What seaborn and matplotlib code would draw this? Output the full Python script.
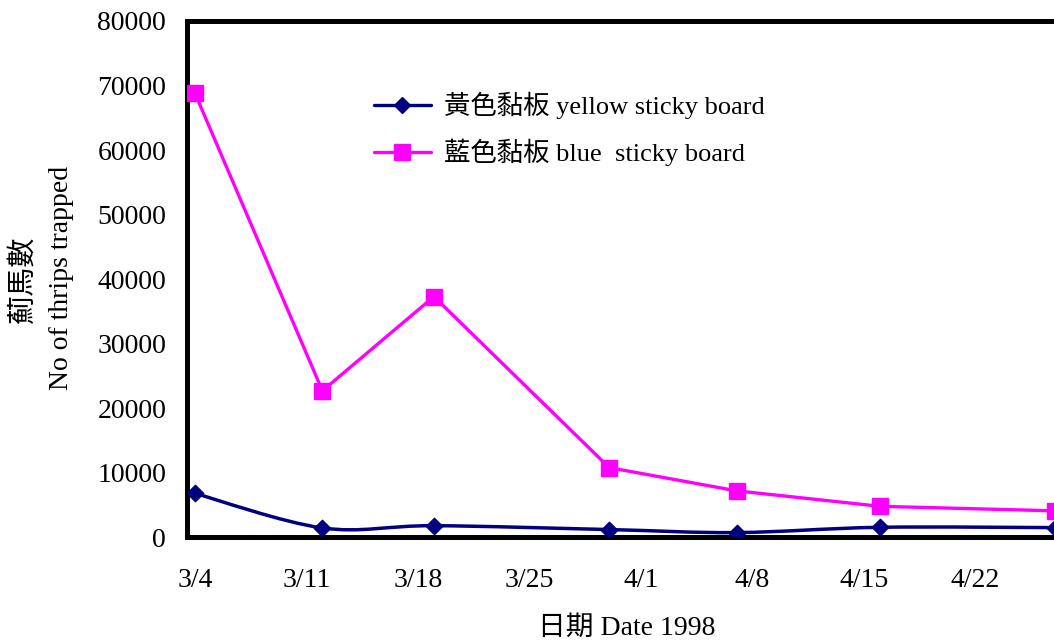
import numpy as np
import pandas as pd
import matplotlib
matplotlib.use("Agg")
import matplotlib.pyplot as plt
from matplotlib.path import Path
from matplotlib.patches import PathPatch
from matplotlib.lines import Line2D
import seaborn as sns

# Sampling dates (month/day, 1998) and thrips caught per board
sample_dates = ["3/4", "3/12", "3/19", "3/30", "4/7", "4/16", "4/27"]
yellow_counts = [6800, 1450, 1800, 1200, 730, 1550, 1500]
blue_counts = [68800, 22700, 37300, 10800, 7200, 4800, 4100]

tick_dates = ["3/4", "3/11", "3/18", "3/25", "4/1", "4/8", "4/15", "4/22"]
y_ticks = [0, 10000, 20000, 30000, 40000, 50000, 60000, 70000, 80000]

series_labels = ["黃色黏板 yellow sticky board", "藍色黏板 blue  sticky board"]
x_label = "日期 Date 1998"
y_label_zh = "薊馬數"
y_label_en = "No of thrips trapped"

NAVY = "#000080"
MAGENTA = "#FF00FF"

sns.set_style("white")
plt.rcParams["font.family"] = ["Liberation Serif", "Noto Sans CJK TC"]
plt.rcParams["text.color"] = "black"
plt.rcParams["axes.labelcolor"] = "black"
plt.rcParams["xtick.color"] = "black"
plt.rcParams["ytick.color"] = "black"

START = pd.Timestamp("1998-03-04")


def day_number(md):
    return (pd.to_datetime(f"1998/{md}", format="%Y/%m/%d") - START).days


# each sample sits in the middle of its day; ticks mark the start of a day
days = np.array([day_number(d) for d in sample_dates]) + 0.5
tick_pos = np.array([day_number(d) for d in tick_dates])

df = pd.DataFrame({"day": days, "yellow": yellow_counts, "blue": blue_counts})

fig = plt.figure(figsize=(10.54, 6.41), dpi=100)
ax = fig.add_axes([187 / 1054, 1 - 537.3 / 641, 880 / 1054, 516.3 / 641])


def smooth_path(xs, ys):
    """Cubic Bezier path through the points (Catmull-Rom style smoothing)."""
    pts = np.column_stack([xs, ys]).astype(float)
    n = len(pts)
    verts = [pts[0]]
    codes = [Path.MOVETO]
    for i in range(n - 1):
        p0 = pts[max(i - 1, 0)]
        p1 = pts[i]
        p2 = pts[i + 1]
        p3 = pts[min(i + 2, n - 1)]
        verts += [p1 + (p2 - p0) / 6, p2 - (p3 - p1) / 6, p2]
        codes += [Path.CURVE4] * 3
    return Path(verts, codes)


# blue board: straight segments with square markers
sns.lineplot(data=df, x="day", y="blue", ax=ax, color=MAGENTA, lw=2.4,
             marker="s", markersize=12, markeredgecolor=MAGENTA,
             markeredgewidth=1, zorder=3)

# yellow board: smoothed curve with diamond markers
ax.add_patch(PathPatch(smooth_path(df["day"], df["yellow"]), fill=False,
                       edgecolor=NAVY, lw=2.5, zorder=2))
sns.scatterplot(data=df, x="day", y="yellow", ax=ax, color=NAVY, marker="D",
                s=70, edgecolor=NAVY, linewidth=1, zorder=4)

ax.set_xlim(0, 55.24)
ax.set_ylim(0, 80000)

# tick marks at the start of each week, date labels centred on that day
ax.set_xticks(tick_pos)
ax.set_xticklabels([])
ax.set_xticks(tick_pos + 0.5, minor=True)
ax.set_xticklabels(tick_dates, minor=True)
ax.set_yticks(y_ticks)
ax.set_yticklabels([str(v) for v in y_ticks])

for side in ["left", "bottom", "top", "right"]:
    ax.spines[side].set_visible(True)
    ax.spines[side].set_color("black")
    ax.spines[side].set_linewidth(3.6)

ax.tick_params(axis="y", direction="in", length=8.5, width=1, color="black",
               labelsize=20, pad=15, labelcolor="black")
ax.tick_params(axis="x", which="major", direction="in", length=6.5, width=1,
               color="#666666")
ax.tick_params(axis="x", which="minor", length=0, labelsize=20, pad=22,
               labelcolor="black")

ax.set_xlabel(x_label, fontsize=20, va="center", color="black")
ax.xaxis.set_label_coords(0.5, (537.3 - 628) / 516.3)
ax.set_ylabel("")
fig.text(62 / 1054, 1 - 278 / 641, y_label_en, rotation=90, fontsize=20,
         ha="center", va="center", color="black")
fig.text(23 / 1054, 1 - 280 / 641, y_label_zh, rotation=90, fontsize=21,
         ha="center", va="center", color="black")

handles = [
    Line2D([], [], color=NAVY, lw=2.4, marker="D", markersize=8,
           markeredgecolor=NAVY),
    Line2D([], [], color=MAGENTA, lw=2.4, marker="s", markersize=12,
           markeredgecolor=MAGENTA),
]
leg = fig.legend(handles, series_labels, loc="upper left",
                 bbox_to_anchor=(374 / 1054, 1 - 92 / 641), frameon=False,
                 fontsize=19, handlelength=2.15, handletextpad=0.5,
                 labelspacing=0.74, borderpad=0, borderaxespad=0)
for t in leg.get_texts():
    t.set_color("black")

fig.savefig("out.png", dpi=100)
